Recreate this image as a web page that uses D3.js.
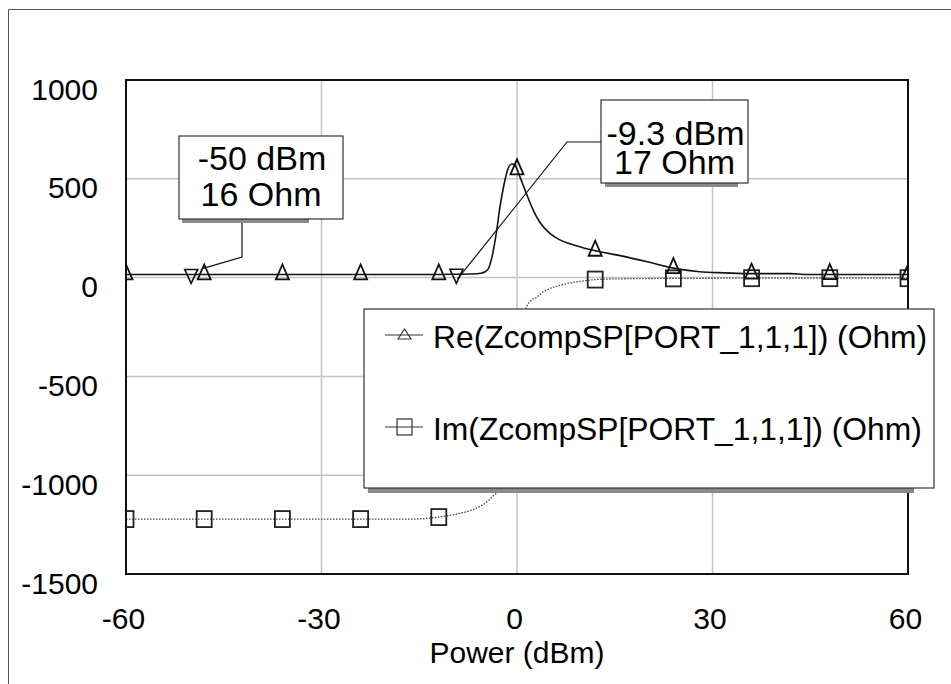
<!DOCTYPE html>
<html>
<head>
<meta charset="utf-8">
<script src="https://cdn.jsdelivr.net/npm/d3@7"></script>
<style>
  body { margin: 0; background: #fff; }
  text { font-family: "Liberation Sans", Arial, sans-serif; fill: #000; }
</style>
</head>
<body>
<script>
// Re(Z) trace, sampled along the sweep
let reX = [-60, -12, -9.3, -7, -5.5, -4.5, -3.8, -3.2, -2.6, -2, -1.4, -0.8, -0.3, 0, 0.8, 1.5, 2.5, 3.5, 5, 6.5, 8, 10, 12, 16, 20, 24, 28, 32, 36, 42, 44, 60];
let reY = [16, 16, 17, 18, 22, 40, 110, 220, 360, 470, 550, 575, 570, 548, 480, 420, 340, 280, 225, 192, 172, 152, 136, 110, 80, 48, 30, 24, 20, 20, 16, 16];

// Im(Z) trace
let imX = [-60, -16, -12, -9, -7, -5.5, -4.5, -3.5, -3, -2.5, -2, -1.5, -1, -0.5, 0, 0.5, 1, 1.5, 2, 3, 4, 5, 6.5, 8, 10, 12, 16, 24, 36, 60];
let imY = [-1222, -1222, -1212, -1195, -1177, -1155, -1132, -1100, -1085, -1020, -880, -720, -560, -420, -330, -250, -190, -145, -120, -100, -72, -56, -40, -28, -18, -10, -6, -4, -3, -3];

// symbol positions (every 12 dBm)
let markX = [-60, -48, -36, -24, -12, 0, 12, 24, 36, 48, 60];
let reMarkY = [16, 16, 16, 16, 16, 548, 136, 48, 20, 18, 16];
let imMarkY = [-1222, -1222, -1222, -1222, -1212, -330, -10, -4, -3, -3, -3];

let xTicks = [-60, -30, 0, 30, 60];
let yTicks = [1000, 500, 0, -500, -1000, -1500];

let legendLabels = ["Re(ZcompSP[PORT_1,1,1]) (Ohm)", "Im(ZcompSP[PORT_1,1,1]) (Ohm)"];

// marker readouts
let markerX = [-50, -9.3];
let markerY = [16, 17];
let markerText = [["-50 dBm", "16 Ohm"], ["-9.3 dBm", "17 Ohm"]];

let W = 951, H = 684;
let pLeft = 126, pRight = 908, pTop = 80, pBottom = 574;

let svg = d3.select("body").append("svg")
            .attr("width", W)
            .attr("height", H);

// outer frame (only top and left edges show)
svg.append("line").attr("x1", 8.5).attr("y1", 9.5).attr("x2", W).attr("y2", 9.5)
    .attr("stroke", "#555").attr("stroke-width", 1);
svg.append("line").attr("x1", 8.5).attr("y1", 9.5).attr("x2", 8.5).attr("y2", H)
    .attr("stroke", "#555").attr("stroke-width", 1);

let x = d3.scaleLinear().domain([-60, 60]).range([pLeft, pRight]);
let y = d3.scaleLinear().domain([-1500, 1000]).range([pBottom, pTop]);

svg.append("defs").append("clipPath").attr("id", "plotClip")
    .append("rect")
    .attr("x", pLeft).attr("y", pTop)
    .attr("width", pRight - pLeft).attr("height", pBottom - pTop);

// grid
let grid = svg.append("g").attr("class", "grid");
grid.selectAll("line.gx")
    .data(xTicks.slice(1, -1))
    .enter().append("line")
    .attr("class", "gx")
    .attr("x1", d => x(d)).attr("x2", d => x(d))
    .attr("y1", pTop).attr("y2", pBottom)
    .attr("stroke", "#c4c4c4").attr("stroke-width", 1.5);
grid.selectAll("line.gy")
    .data(yTicks.slice(1, -1))
    .enter().append("line")
    .attr("class", "gy")
    .attr("x1", pLeft).attr("x2", pRight)
    .attr("y1", d => y(d)).attr("y2", d => y(d))
    .attr("stroke", "#c4c4c4").attr("stroke-width", 1.5);

// axes: labels only, the frame is drawn separately
let plain = d => String(d);

let xAxis = svg.append("g")
    .attr("transform", `translate(0,${pBottom})`)
    .call(d3.axisBottom(x).tickValues(xTicks).tickFormat(plain).tickSize(0).tickPadding(0));
xAxis.select(".domain").remove();
xAxis.selectAll("text")
    .attr("dy", null)
    .attr("y", 55)
    .attr("x", -3)
    .attr("font-size", 30)
    .attr("font-family", "Liberation Sans, Arial, sans-serif")
    .attr("fill", "#000");

let yAxis = svg.append("g")
    .attr("transform", `translate(${pLeft},0)`)
    .call(d3.axisLeft(y).tickValues(yTicks).tickFormat(plain).tickSize(0).tickPadding(0));
yAxis.select(".domain").remove();
yAxis.selectAll("text")
    .attr("dy", null)
    .attr("x", -28)
    .attr("y", 19)
    .attr("font-size", 30)
    .attr("font-family", "Liberation Sans, Arial, sans-serif")
    .attr("fill", "#000");

svg.append("text")
    .attr("x", (pLeft + pRight) / 2)
    .attr("y", 663)
    .attr("text-anchor", "middle")
    .attr("font-size", 30)
    .text("Power (dBm)");

// traces
let plot = svg.append("g").attr("clip-path", "url(#plotClip)");

let reData = reX.map((d, i) => [d, reY[i]]);
let imData = imX.map((d, i) => [d, imY[i]]);
let line = d3.line().x(d => x(d[0])).y(d => y(d[1])).curve(d3.curveMonotoneX);

plot.append("path")
    .datum(imData)
    .attr("d", line)
    .attr("fill", "none")
    .attr("stroke", "#444")
    .attr("stroke-width", 1.3)
    .attr("stroke-dasharray", "1.5,1.5");

plot.append("path")
    .datum(reData)
    .attr("d", line)
    .attr("fill", "none")
    .attr("stroke", "#111")
    .attr("stroke-width", 1.6);

let triangle = (cx, cy) => `M${cx - 6.5},${cy + 5}L${cx},${cy - 10}L${cx + 6.5},${cy + 5}Z`;
let triangleDown = (cx, cy) => `M${cx - 6.5},${cy - 5}L${cx},${cy + 9}L${cx + 6.5},${cy - 5}Z`;

plot.selectAll("rect.imMark")
    .data(markX.map((d, i) => [d, imMarkY[i]]))
    .enter().append("rect")
    .attr("class", "imMark")
    .attr("x", d => x(d[0]) - 7.5)
    .attr("y", d => y(d[1]) - 8)
    .attr("width", 15).attr("height", 16)
    .attr("fill", "none")
    .attr("stroke", "#222")
    .attr("stroke-width", 1.8);

plot.selectAll("path.reMark")
    .data(markX.map((d, i) => [d, reMarkY[i]]))
    .enter().append("path")
    .attr("class", "reMark")
    .attr("d", d => triangle(x(d[0]), y(d[1])))
    .attr("fill", "none")
    .attr("stroke", "#111")
    .attr("stroke-width", 1.8);

// plot frame
svg.append("rect")
    .attr("x", pLeft).attr("y", pTop)
    .attr("width", pRight - pLeft).attr("height", pBottom - pTop)
    .attr("fill", "none")
    .attr("stroke", "#111")
    .attr("stroke-width", 2);

// marker readouts
let boxes = [
    {bx: 179, by: 136, bw: 164, bh: 83, l1: 170, l2: 206, sh0: 3, sh1: 34,
     leader: (px, py) => [[242, 219], [242, 257], [px + 12, py - 6]]},
    {bx: 601, by: 100, bw: 147, bh: 83, l1: 145, l2: 174, sh0: 4, sh1: 10,
     leader: (px, py) => [[601, 142], [567, 142], [px + 1, py + 5]]}
];

boxes.forEach(function (b, i) {
    let px = x(markerX[i]), py = y(markerY[i]);
    let g = svg.append("g");
    g.append("path")
        .attr("d", d3.line()(b.leader(px, py)))
        .attr("fill", "none")
        .attr("stroke", "#111")
        .attr("stroke-width", 1.2);
    g.append("path")
        .attr("d", triangleDown(px, py))
        .attr("fill", "none")
        .attr("stroke", "#111")
        .attr("stroke-width", 1.6);
    g.append("rect")
        .attr("x", b.bx + b.sh0).attr("y", b.by + b.bh)
        .attr("width", b.bw - b.sh0 - b.sh1).attr("height", 4)
        .attr("fill", "#8a8a8a");
    g.append("rect")
        .attr("x", b.bx).attr("y", b.by)
        .attr("width", b.bw).attr("height", b.bh)
        .attr("fill", "#fff")
        .attr("stroke", "#333")
        .attr("stroke-width", 1.2);
    g.append("text")
        .attr("x", b.bx + b.bw / 2 + 1).attr("y", b.l1)
        .attr("text-anchor", "middle")
        .attr("font-size", 34)
        .text(markerText[i][0]);
    g.append("text")
        .attr("x", b.bx + b.bw / 2).attr("y", b.l2)
        .attr("text-anchor", "middle")
        .attr("font-size", 34)
        .text(markerText[i][1]);
});

// legend
let legend = svg.append("g");
legend.append("rect")
    .attr("x", 368).attr("y", 488)
    .attr("width", 546).attr("height", 5)
    .attr("fill", "#8a8a8a");
legend.append("rect")
    .attr("x", 364).attr("y", 309)
    .attr("width", 570).attr("height", 179)
    .attr("fill", "#fff")
    .attr("stroke", "#333")
    .attr("stroke-width", 1.2);

let legendY = [335, 427];
legendLabels.forEach(function (lab, i) {
    legend.append("line")
        .attr("x1", 385).attr("x2", 423)
        .attr("y1", legendY[i]).attr("y2", legendY[i])
        .attr("stroke", "#333").attr("stroke-width", 1.2);
    if (i === 0) {
        legend.append("path")
            .attr("d", `M398,339L404.5,329L411,339Z`)
            .attr("fill", "none").attr("stroke", "#333").attr("stroke-width", 1.2);
    } else {
        legend.append("rect")
            .attr("x", 397).attr("y", 419).attr("width", 15).attr("height", 16)
            .attr("fill", "none").attr("stroke", "#333").attr("stroke-width", 1.2);
    }
    legend.append("text")
        .attr("x", 433).attr("y", legendY[i] + 13)
        .attr("font-size", 31.8)
        .text(lab);
});
</script>
</body>
</html>
